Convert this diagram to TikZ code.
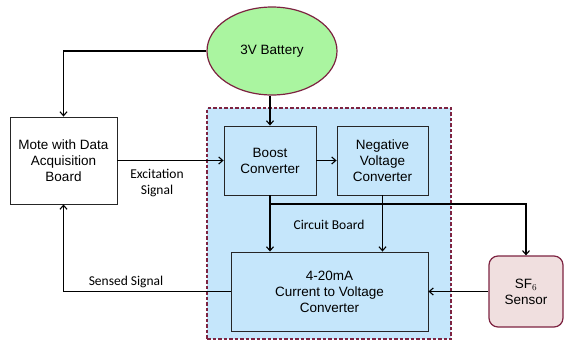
\documentclass[tikz,border=0pt]{standalone}
\usepackage{fontspec}
\setmainfont{Liberation Sans}
\newfontfamily\lblfont{Carlito}
\usetikzlibrary{arrows.meta,shapes.geometric,calc}
\definecolor{boardblue}{RGB}{197,230,251}
\definecolor{batgreen}{RGB}{170,245,160}
\definecolor{darkred}{RGB}{125,35,65}
\definecolor{sensorpink}{RGB}{240,223,223}
\tikzset{
  blk/.style={draw=black!85, line width=0.9pt, align=center, inner sep=2pt,
    font=\fontsize{13.5}{16}\selectfont},
  lbl/.style={font=\lblfont\fontsize{13.5}{16}\selectfont, align=center, inner sep=0pt},
  arr/.style={draw=black, line width=1.1pt, -{Straight Barb[length=4pt,width=7pt,line width=1.1pt]}},
  ln/.style={draw=black, line width=1.1pt}
}
\begin{document}
\begin{tikzpicture}[x=1pt,y=-1pt]
\useasboundingbox (0,0) rectangle (566,341);
% circuit board region
\node[draw=darkred, dash pattern=on 3.5pt off 2pt, line width=1.1pt, fill=boardblue, minimum width=244pt, minimum height=231pt, inner sep=0pt] (board) at (329,223.5) {};
% blocks
\node[blk, fill=white, minimum width=107pt, minimum height=87pt] (mote) at (63.5,160.5) {Mote with Data\\Acquisition\\Board};
\node[blk, fill=boardblue, minimum width=92pt, minimum height=69pt] (boost) at (270,160.5) {Boost\\Converter};
\node[blk, fill=boardblue, minimum width=91pt, minimum height=69pt] (neg) at (382.5,160.5) {Negative\\Voltage\\Converter};
\node[blk, fill=boardblue, minimum width=197pt, minimum height=79pt] (conv) at (329.5,291.5) {4-20mA\\Current to Voltage\\Converter};
\node[blk, draw=darkred, line width=1.2pt, fill=sensorpink, rounded corners=9pt, minimum width=74pt, minimum height=71pt] (sf) at (526,291.5) {SF$_{\fontsize{8}{8}\selectfont 6}$\\Sensor};
\node[blk, ellipse, draw=darkred, line width=1.2pt, fill=batgreen, inner sep=0pt, minimum width=130pt, minimum height=88pt] (bat) at (272,51) {3V Battery};
% labels
\node[lbl] (exc) at (157,183) {Excitation\\Signal};
\node[lbl] (cb) at (329,225) {Circuit Board};
\node[lbl] (sens) at (126,282) {Sensed Signal};
% connectors
\draw[arr] (bat.west) -| (mote.north);
\draw[arr] (boost.north |- bat.south) -- (boost.north);
\draw[arr] (mote.east) -- (boost.west);
\draw[arr] (boost.east) -- (neg.west);
\draw[arr] (boost.south) -- (conv.north -| boost.south);
\draw[arr] (neg.south) -- (conv.north -| neg.south);
\coordinate (j) at (270,204);
\draw[arr] (j) -| (sf.north);
\draw[arr] (sf.west) -- (conv.east);
\draw[arr] (conv.west) -| (mote.south);
\end{tikzpicture}
\end{document}
